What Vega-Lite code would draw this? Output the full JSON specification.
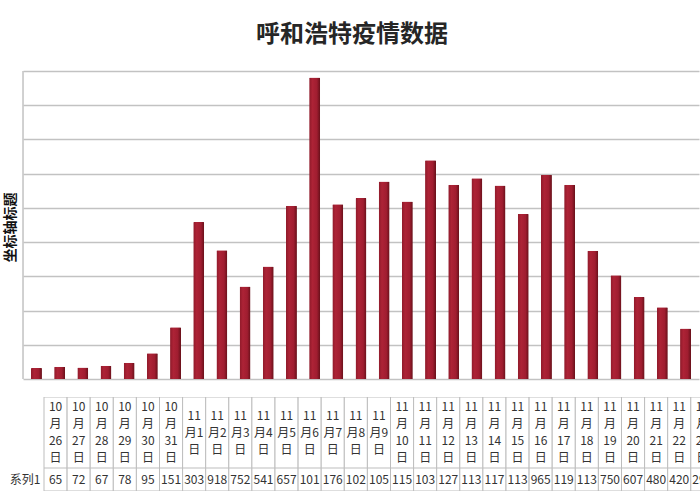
{
  "$schema": "https://vega.github.io/schema/vega-lite/v6.json",
  "padding": {"left": 3, "top": 23, "right": 0, "bottom": 0},
  "background": "white",
  "title": {"text": "呼和浩特疫情数据", "font": "Noto Sans CJK SC", "fontSize": 24, "fontWeight": "bold", "color": "#262626", "anchor": "middle", "offset": 23},
  "config": {"view": {"stroke": null}},
  "data": {"values": [
    {"date": "10月26日", "value": 65},
    {"date": "10月27日", "value": 72},
    {"date": "10月28日", "value": 67},
    {"date": "10月29日", "value": 78},
    {"date": "10月30日", "value": 95},
    {"date": "10月31日", "value": 151},
    {"date": "11月1日", "value": 303},
    {"date": "11月2日", "value": 918},
    {"date": "11月3日", "value": 752},
    {"date": "11月4日", "value": 541},
    {"date": "11月5日", "value": 657},
    {"date": "11月6日", "value": 1013},
    {"date": "11月7日", "value": 1762},
    {"date": "11月8日", "value": 1022},
    {"date": "11月9日", "value": 1058},
    {"date": "11月10日", "value": 1155},
    {"date": "11月11日", "value": 1037},
    {"date": "11月12日", "value": 1278},
    {"date": "11月13日", "value": 1135},
    {"date": "11月14日", "value": 1174},
    {"date": "11月15日", "value": 1131},
    {"date": "11月16日", "value": 965},
    {"date": "11月17日", "value": 1194},
    {"date": "11月18日", "value": 1135},
    {"date": "11月19日", "value": 750},
    {"date": "11月20日", "value": 607},
    {"date": "11月21日", "value": 480},
    {"date": "11月22日", "value": 420},
    {"date": "11月23日", "value": 295}
  ]},
  "transform": [
    {"calculate": "split(datum.date, '月')[0]", "as": "mon"},
    {"calculate": "replace(split(datum.date, '月')[1], '日', '')", "as": "day"},
    {"calculate": "length(datum.day) == 1 ? datum.mon + '\\n月' + datum.day + '\\n日' : datum.mon + '\\n月\\n' + datum.day + '\\n日'", "as": "hdr"},
    {"calculate": "substring(toString(datum.value), 0, 3)", "as": "shown"}
  ],
  "spacing": 0,
  "resolve": {"scale": {"x": "independent", "y": "independent"}},
  "vconcat": [
    {
      "width": 676,
      "height": 326,
      "layer": [
        {
          "mark": {"type": "bar", "width": 11, "cornerRadiusTopLeft": 1, "cornerRadiusTopRight": 1,
            "color": {"gradient": "linear", "x1": 0, "y1": 0, "x2": 1, "y2": 0,
              "stops": [{"offset": 0, "color": "#8e1a2a"}, {"offset": 0.3, "color": "#ad2336"}, {"offset": 0.7, "color": "#a01d30"}, {"offset": 1, "color": "#661019"}]}},
          "encoding": {
            "x": {"field": "date", "type": "ordinal", "sort": null, "scale": {"paddingInner": 0.525, "paddingOuter": 0.343}, "axis": null},
            "y": {"field": "value", "type": "quantitative",
              "scale": {"domain": [-105, 1800], "nice": false, "zero": false},
              "axis": {"title": "坐标轴标题", "titleFont": "Noto Sans CJK SC", "titleFontSize": 14, "titleFontWeight": "bold", "titleColor": "#111", "titlePadding": 6, "titleY": 156,
                "labels": false, "ticks": false, "domain": false, "grid": true, "tickCount": 20,
                "values": [0, 200, 400, 600, 800, 1000, 1200, 1400, 1600, 1800],
                "gridColor": "#c2c2c2", "gridWidth": 1.5}}
          }
        },
        {
          "data": {"values": [{}]},
          "mark": {"type": "rule", "color": "#c2c2c2", "strokeWidth": 1.5},
          "encoding": {
            "x": {"datum": "10月26日", "type": "ordinal", "bandPosition": -0.72},
            "y": {"datum": 0, "type": "quantitative"},
            "y2": {"datum": 1800}
          }
        }
      ]
    },
    {
      "width": 678,
      "height": 71,
      "encoding": {
        "x": {"field": "date", "type": "ordinal", "sort": null, "scale": {"range": [21, 690.9], "paddingInner": 0, "paddingOuter": 0}, "axis": null}
      },
      "layer": [
        {"mark": {"type": "rect", "fill": "white", "stroke": "#bdbdbd", "strokeWidth": 1, "clip": true}},
        {"transform": [{"filter": "length(datum.day) == 2"}],
         "mark": {"type": "text", "lineBreak": "\n", "lineHeight": 17, "fontSize": 12, "font": "Noto Sans CJK SC", "color": "#333333", "baseline": "middle", "dy": -25.5, "clip": true},
         "encoding": {"text": {"field": "hdr"}}},
        {"transform": [{"filter": "length(datum.day) == 1"}],
         "mark": {"type": "text", "lineBreak": "\n", "lineHeight": 17, "fontSize": 12, "font": "Noto Sans CJK SC", "color": "#333333", "baseline": "middle", "dy": -17, "clip": true},
         "encoding": {"text": {"field": "hdr"}}}
      ]
    },
    {
      "width": 678,
      "height": 23,
      "encoding": {
        "x": {"field": "date", "type": "ordinal", "sort": null, "scale": {"range": [21, 690.9], "paddingInner": 0, "paddingOuter": 0}, "axis": null}
      },
      "layer": [
        {"mark": {"type": "rect", "fill": "white", "stroke": "#bdbdbd", "strokeWidth": 1, "clip": true}},
        {"mark": {"type": "text", "fontSize": 12, "font": "Noto Sans CJK SC", "color": "#333333", "baseline": "middle", "clip": true},
         "encoding": {
           "text": {"field": "shown"},
           "y": {"datum": "系列1", "type": "nominal", "scale": {"paddingInner": 0, "paddingOuter": 0},
             "axis": {"title": null, "domain": false, "ticks": false, "labelFont": "Noto Sans CJK SC", "labelFontSize": 12, "labelColor": "#333333", "labelPadding": 4, "offset": -21}}
         }}
      ]
    }
  ]
}
